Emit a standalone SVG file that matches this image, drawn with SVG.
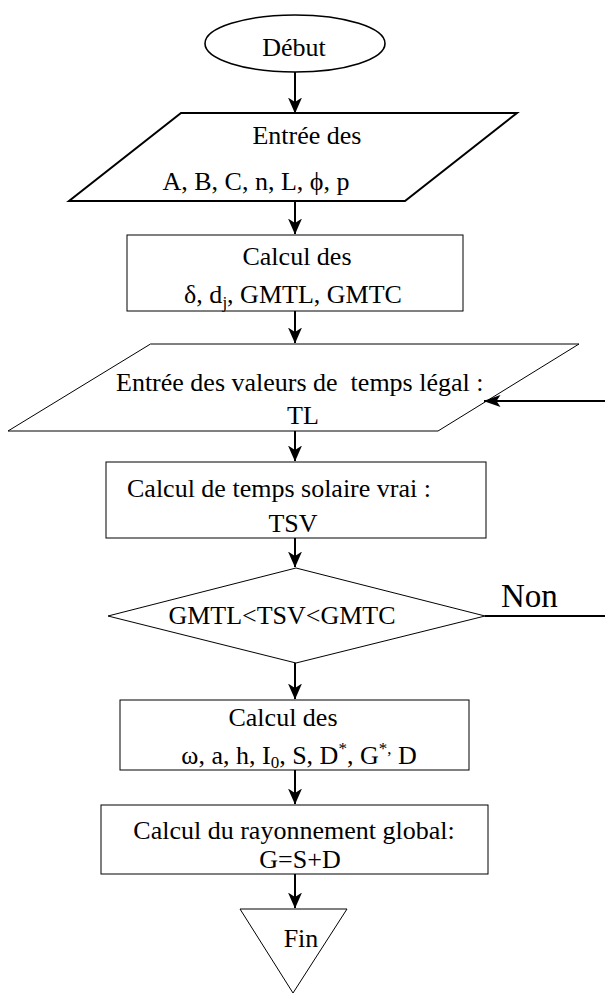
<svg xmlns="http://www.w3.org/2000/svg" width="605" height="994" viewBox="0 0 605 994">
<defs>
<style>
text{font-family:'Liberation Serif','Times New Roman',serif;font-size:26px;fill:#000}
.m{text-anchor:middle}
.thin{fill:#fff;stroke:#000;stroke-width:1}
.thick{fill:#fff;stroke:#000;stroke-width:2}
.ln{fill:none;stroke:#000;stroke-width:2}
.sub{font-size:17px}
.big{font-size:33px}
</style>
<marker id="a" markerUnits="userSpaceOnUse" markerWidth="16" markerHeight="14" viewBox="0 0 16 14" refX="15.5" refY="7" orient="auto">
<path d="M0,0 L16,7 L0,14 L4.5,7 z" fill="#000"/>
</marker>
<marker id="f" markerUnits="userSpaceOnUse" markerWidth="17" markerHeight="12" viewBox="0 0 17 12" refX="16.5" refY="6" orient="auto">
<path d="M0,0 L17,6 L0,12 L4,6 z" fill="#000"/>
</marker>
</defs>
<g id="debut">
<ellipse cx="295" cy="43.5" rx="90" ry="28.5" fill="#fff" stroke="#000" stroke-width="1.6"/>
<text class="m" x="294" y="56">Début</text>
</g>
<g id="entree1">
<polygon class="thick" points="181,113 517,113 405,201 69,201"/>
<text class="m" x="307" y="144">Entrée des</text>
<text class="m" x="256" y="190">A, B, C, n, L, ϕ, p</text>
</g>
<g id="calcul1">
<rect class="thin" x="127" y="235" width="336" height="76"/>
<text class="m" x="297" y="265">Calcul des</text>
<text class="m" x="293" y="303">δ, d<tspan class="sub" dy="5">j</tspan><tspan dy="-5">, GMTL, GMTC</tspan></text>
</g>
<g id="entree2">
<polygon class="thin" points="150.5,344 579,344 438,431 8,431"/>
<text x="116" y="391" xml:space="preserve">Entrée des valeurs de  temps légal :</text>
<text class="m" x="303" y="424">TL</text>
</g>
<g id="calcul2">
<rect class="thin" x="106" y="462" width="380" height="76"/>
<text x="127" y="497">Calcul de temps solaire vrai :</text>
<text class="m" x="293" y="532">TSV</text>
</g>
<g id="decision">
<polygon class="thin" points="296,568 485,616 296,663 108,616"/>
<text class="m" x="282" y="624">GMTL&lt;TSV&lt;GMTC</text>
<text class="big" x="501" y="607">Non</text>
</g>
<g id="calcul3">
<rect class="thin" x="120" y="700" width="349" height="70"/>
<text class="m" x="283" y="726">Calcul des</text>
<text class="m" x="299" y="764">ω, a, h, I<tspan class="sub" dy="4">0</tspan><tspan dy="-4">, S, D</tspan><tspan class="sub" dy="-10">*</tspan><tspan dy="10">, G</tspan><tspan class="sub" dy="-10">*,</tspan><tspan dy="10"> D</tspan></text>
</g>
<g id="calcul4">
<rect class="thin" x="101" y="805" width="387" height="69"/>
<text class="m" x="294" y="839">Calcul du rayonnement global:</text>
<text class="m" x="300" y="868">G=S+D</text>
</g>
<g id="fin">
<polygon class="thin" points="240,909 347,909 293,993"/>
<text class="m" x="301" y="947">Fin</text>
</g>
<g id="connectors">
<line class="ln" x1="295" y1="72" x2="295" y2="113" marker-end="url(#a)"/>
<line class="ln" x1="295" y1="201" x2="295" y2="234" marker-end="url(#a)"/>
<line class="ln" x1="295" y1="311" x2="295" y2="343" marker-end="url(#a)"/>
<line class="ln" x1="295" y1="431" x2="295" y2="461" marker-end="url(#a)"/>
<line class="ln" x1="295" y1="538" x2="295" y2="567" marker-end="url(#a)"/>
<line class="ln" x1="295" y1="663" x2="295" y2="699" marker-end="url(#a)"/>
<line class="ln" x1="295" y1="770" x2="295" y2="804" marker-end="url(#a)"/>
<line class="ln" x1="295" y1="874" x2="295" y2="908" marker-end="url(#a)"/>
<line class="ln" x1="485" y1="616" x2="605" y2="616"/>
<line class="ln" x1="605" y1="401" x2="484" y2="401" marker-end="url(#f)"/>
</g>
</svg>
